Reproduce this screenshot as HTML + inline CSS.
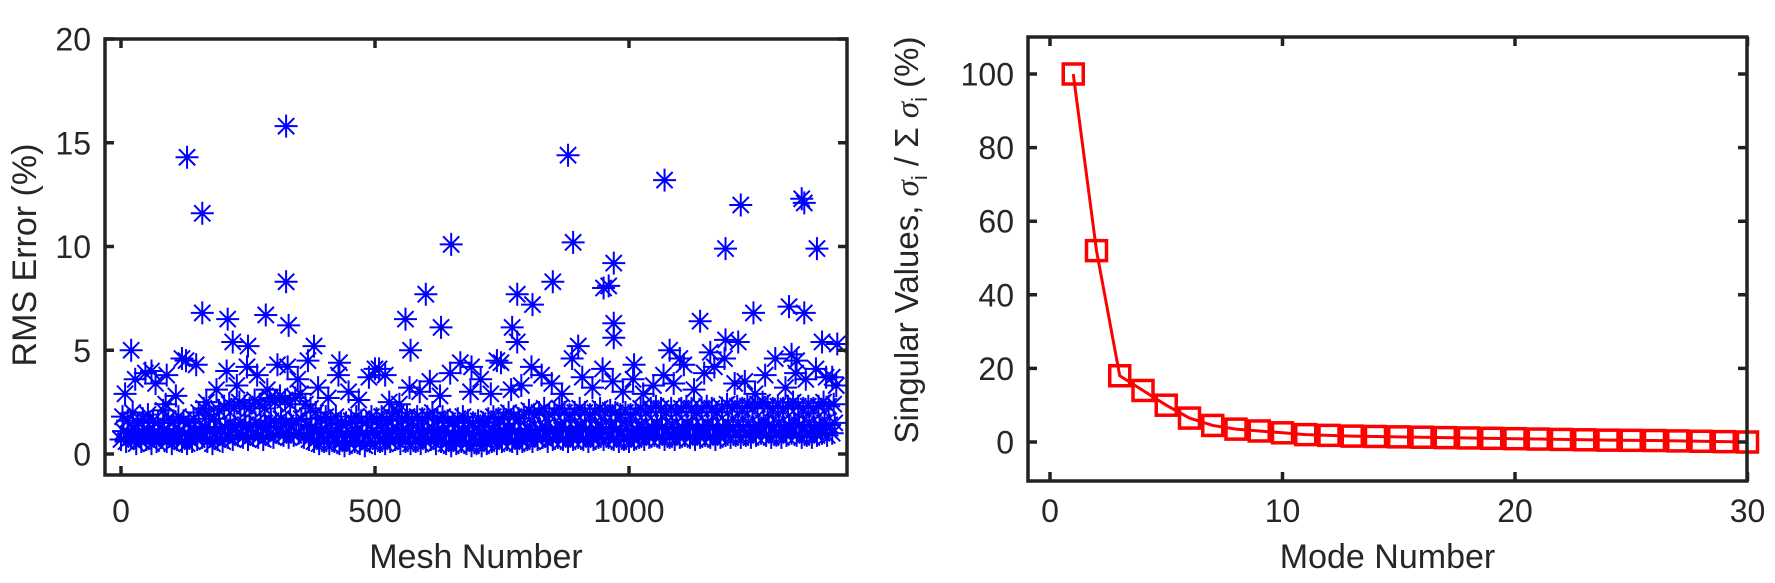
<!DOCTYPE html>
<html><head><meta charset="utf-8"><style>
body{margin:0;background:#fff;}
svg{display:block;font-family:"Liberation Sans",sans-serif;}
</style></head><body>
<svg id="c" width="1775" height="583" viewBox="0 0 1775 583"></svg>
<script>
// ---- Left chart data ----
const lowBand=[0.7,0.6,0.8,0.5,0.6,0.7,0.5,0.6,0.8,0.6,0.5,0.7,0.6,0.5,0.6,0.7,0.8,0.6,0.5,0.7,0.6,0.8,0.7,0.9,0.8,0.7,0.9,0.8,0.7,0.9,0.8,1.0,0.9,0.8,0.9,1.0,0.8,0.7,0.6,0.5,0.6,0.5,0.6,0.5,0.4,0.5,0.6,0.5,0.4,0.6,0.5,0.6,0.5,0.6,0.7,0.5,0.6,0.5,0.6,0.5,0.6,0.7,0.5,0.6,0.5,0.4,0.5,0.6,0.5,0.4,0.5,0.4,0.5,0.6,0.5,0.6,0.7,0.6,0.5,0.6,0.7,0.6,0.7,0.8,0.6,0.7,0.8,0.7,0.6,0.7,0.8,0.7,0.6,0.7,0.8,0.7,0.8,0.7,0.6,0.7,0.6,0.7,0.8,0.7,0.8,0.9,0.8,0.7,0.8,0.7,0.8,0.9,0.8,0.7,0.8,0.9,0.8,0.7,0.8,0.9,0.8,0.9,0.8,0.9,0.8,0.9,1.0,0.9,0.8,0.9,0.8,0.9,1.0,0.9,0.8,0.9,0.8,0.9,1.0,0.9,1.0];
const coreBand=[1.1,1.0,1.2,0.9,1.0,1.1,1.0,0.9,1.2,1.0,0.9,1.1,1.0,0.9,1.0,1.2,1.3,1.1,1.0,1.2,1.3,1.4,1.3,1.5,1.4,1.3,1.5,1.4,1.3,1.6,1.5,1.7,1.5,1.4,1.6,1.7,1.4,1.3,1.2,1.0,1.1,1.0,1.1,0.9,0.9,1.0,1.1,1.0,0.9,1.1,1.0,1.1,1.0,1.1,1.2,1.0,1.1,1.0,1.1,1.0,1.1,1.2,1.0,1.1,1.0,0.9,1.0,1.1,1.0,0.9,1.0,0.9,1.0,1.1,1.0,1.1,1.2,1.1,1.0,1.1,1.2,1.1,1.2,1.3,1.1,1.2,1.3,1.2,1.1,1.2,1.3,1.2,1.1,1.2,1.3,1.2,1.3,1.2,1.1,1.2,1.1,1.2,1.3,1.2,1.3,1.4,1.3,1.2,1.3,1.2,1.3,1.4,1.3,1.2,1.3,1.4,1.3,1.2,1.3,1.4,1.3,1.4,1.3,1.4,1.3,1.4,1.5,1.4,1.3,1.4,1.3,1.4,1.5,1.4,1.3,1.4,1.3,1.4,1.5,1.4,1.5];
const highBand=[1.8,1.6,2.0,1.5,1.7,1.9,1.6,1.5,2.1,1.7,1.5,1.8,1.6,1.5,1.7,2.0,2.2,1.9,1.7,2.1,2.3,2.4,2.2,2.5,2.3,2.2,2.6,2.4,2.2,2.7,2.5,2.8,2.6,2.4,2.7,2.9,2.4,2.2,2.0,1.7,1.8,1.6,1.8,1.5,1.5,1.6,1.8,1.6,1.5,1.8,1.7,1.8,1.6,1.8,2.0,1.7,1.8,1.6,1.8,1.7,1.8,2.0,1.7,1.8,1.6,1.5,1.7,1.8,1.6,1.5,1.6,1.5,1.7,1.8,1.7,1.8,2.0,1.8,1.7,1.9,2.1,1.9,2.0,2.2,1.9,2.0,2.2,2.0,1.9,2.0,2.2,2.0,1.9,2.0,2.2,2.0,2.1,2.0,1.9,2.0,1.9,2.0,2.2,2.0,2.2,2.3,2.2,2.0,2.2,2.0,2.2,2.3,2.2,2.0,2.2,2.3,2.2,2.0,2.2,2.4,2.2,2.3,2.2,2.3,2.2,2.4,2.5,2.3,2.2,2.3,2.2,2.3,2.5,2.3,2.2,2.3,2.2,2.3,2.5,2.3,2.4];
const midBand=[2.9,3.6,3.9,3.4,2.4,2.8,4.5,4.3,2.5,3.1,4.0,3.3,4.2,3.8,3.1,4.3,4.2,3.6,4.5,3.2,2.7,3.8,3.0,2.6,3.7,4.1,2.5,2.4,3.2,3.0,3.5,2.8,3.9,4.4,3.0,3.6,2.9,4.4,3.1,3.3,4.2,3.8,3.4,2.9,4.6,3.7,3.2,4.1,3.5,3.0,3.6,2.9,3.3,3.8,3.4,4.3,3.1,3.9,4.2,4.6,3.4,3.5,2.9,3.8,4.6,3.2,3.9,3.6,4.1,3.7,3.3];
const outX=[130,160,325,325,330,160,210,285,20,880,890,1070,1220,1190,650,970,950,960,850,1340,1345,1370,600,560,630,770,780,810,1140,1245,1315,1345,380,220,250,570,780,970,970,1215,1190,1380,1400,1410,900,1080,1160,1320,1330,120,60,90,430,500,520,690,740,1010,1100];
const outY=[14.3,11.6,15.8,8.3,6.2,6.8,6.5,6.7,5.0,14.4,10.2,13.2,12.0,9.9,10.1,9.2,8.0,8.1,8.3,12.3,12.1,9.9,7.7,6.5,6.1,6.1,7.7,7.2,6.4,6.8,7.1,6.8,5.2,5.4,5.2,5.0,5.4,5.6,6.3,5.4,5.5,5.4,3.7,5.3,5.2,5.0,4.9,4.8,4.5,4.6,4.0,3.8,4.4,4.1,3.8,4.2,4.5,4.3,4.6];
const leftXTicks=[0,500,1000];
const leftYTicks=[0,5,10,15,20];
// ---- Right chart data ----
const modes=[1,2,3,4,5,6,7,8,9,10,11,12,13,14,15,16,17,18,19,20,21,22,23,24,25,26,27,28,29,30];
const singVals=[100,52,18,14,10,6.5,4.5,3.5,3,2.5,2,1.8,1.6,1.5,1.4,1.3,1.2,1.1,1,0.9,0.8,0.7,0.6,0.5,0.45,0.4,0.3,0.2,0.1,0];
const rightXTicks=[0,10,20,30];
const rightYTicks=[0,20,40,60,80,100];

const NS='http://www.w3.org/2000/svg';
const svg=document.getElementById('c');
function mk(tag,attrs,parent){const e=document.createElementNS(NS,tag);for(const k in attrs)e.setAttribute(k,attrs[k]);(parent||svg).appendChild(e);return e;}
function lin(d0,d1,r0,r1){return v=>r0+(v-d0)*(r1-r0)/(d1-d0);}

// Left axes
const L={x0:105,x1:847,y0:39,y1:475};
const lx=lin(0,1000,121,629), ly=lin(0,20,454,39);
const gL=mk('g',{});


const pts=mk('g',{stroke:'#0000ff','stroke-width':2,fill:'none'},gL);


function star(x,y){
  const r=11.5,d=8.1;
  const p=mk('path',{d:`M${x-r},${y}H${x+r}M${x},${y-r}V${y+r}M${x-d},${y-d}L${x+d},${y+d}M${x-d},${y+d}L${x+d},${y-d}`},pts);
  
  
}
lowBand.forEach((v,i)=>star(lx(i*10),ly(v)));
coreBand.forEach((v,i)=>star(lx(i*10+5),ly(v)));
highBand.forEach((v,i)=>star(lx(i*10+3),ly(v)));
midBand.forEach((v,i)=>star(lx(i*20+8),ly(v)));
outX.forEach((x,i)=>star(lx(x),ly(outY[i])));

function axes(g,B,xt,yt,xs,ys,nameP){
  const fr=mk('rect',{x:B.x0,y:B.y0,width:B.x1-B.x0,height:B.y1-B.y0,fill:'none',stroke:'#222','stroke-width':3.5},g);
  
  
  xt.forEach(t=>{const x=xs(t);
    mk('path',{d:`M${x},${B.y1}v-9M${x},${B.y0}v9`,stroke:'#222','stroke-width':3.5},g);
    const tx=mk('text',{x:x,y:522,'text-anchor':'middle','font-size':32,fill:'#262626'},g);tx.textContent=t;
    
    });
  yt.forEach(t=>{const y=ys(t);
    mk('path',{d:`M${B.x0},${y}h9M${B.x1},${y}h-9`,stroke:'#222','stroke-width':3.5},g);
    const tx=mk('text',{x:B.x0-14,y:y+11.5,'text-anchor':'end','font-size':32,fill:'#262626'},g);tx.textContent=t;
    
    });
}
axes(gL,L,leftXTicks,leftYTicks,lx,ly,'left');
let t=mk('text',{x:(L.x0+L.x1)/2,y:568,'text-anchor':'middle','font-size':34,fill:'#262626'},gL);t.textContent='Mesh Number';


t=mk('text',{x:0,y:0,'text-anchor':'middle','font-size':34,fill:'#262626',transform:'translate(36,255) rotate(-90)'},gL);t.textContent='RMS Error (%)';



// Right axes
const R={x0:1028,x1:1747,y0:37,y1:481};
const rx=lin(0,30,1050,1747.5), ry=lin(0,100,442,74);
const gR=mk('g',{});


const line=mk('polyline',{points:modes.map((m,i)=>rx(m)+','+ry(singVals[i])).join(' '),fill:'none',stroke:'#ff0000','stroke-width':3},gR);


modes.forEach((m,i)=>{const s=mk('rect',{x:rx(m)-10,y:ry(singVals[i])-10,width:20,height:20,fill:'none',stroke:'#ff0000','stroke-width':3.5},gR);
  
  });
axes(gR,R,rightXTicks,rightYTicks,rx,ry,'right');
t=mk('text',{x:(R.x0+R.x1)/2,y:568,'text-anchor':'middle','font-size':34,fill:'#262626'},gR);t.textContent='Mode Number';


t=mk('text',{x:0,y:0,'text-anchor':'middle','font-size':33,fill:'#262626',transform:'translate(918,240) rotate(-90)'},gR);
t.innerHTML='Singular Values, <tspan font-family="Liberation Serif" font-style="italic">σ</tspan><tspan font-size="22" dy="9">i</tspan><tspan dy="-9"> / Σ </tspan><tspan font-family="Liberation Serif" font-style="italic">σ</tspan><tspan font-size="22" dy="9">i</tspan><tspan dy="-9"> (%)</tspan>';


</script>
</body></html>
